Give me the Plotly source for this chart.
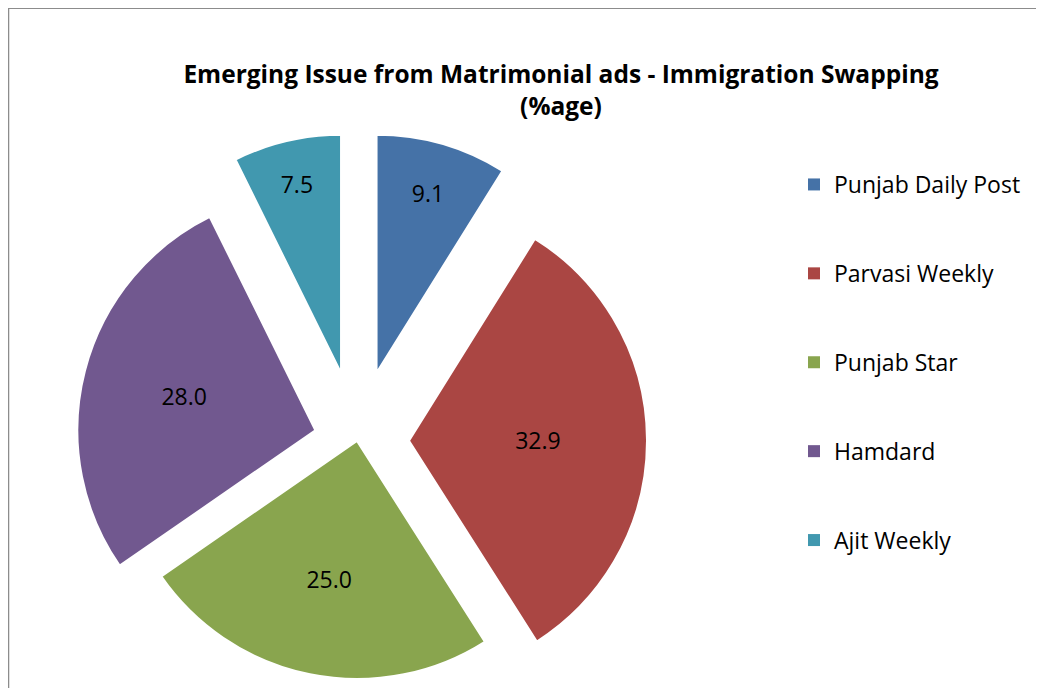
import math
import plotly.graph_objects as go

# ---- data ----
labels = ["Punjab Daily Post", "Parvasi Weekly", "Punjab Star", "Hamdard", "Ajit Weekly"]
values = [9.1, 32.9, 25.0, 28.0, 7.5]
colors = ["#4572A7", "#AA4643", "#89A54E", "#71588F", "#4198AF"]
explode_px = [71, 52, 0, 43, 70]   # how far each slice is pulled out (px)

title_text = "<b>Emerging Issue from Matrimonial ads - Immigration Swapping<br>(%age)</b>"

# ---- layout geometry ----
OFF = 8                 # page body margin
W, H = 1034, 680        # figure size
CX, CY, R = 357 - OFF, 441 - OFF, 238
FONT = "Open Sans"


def px_x(sx):
    return (sx - OFF) / W


def px_y(sy):
    return 1 - (sy - OFF) / H


fig = go.Figure()

total = sum(values)
cum = 0.0
for i, (lab, v) in enumerate(zip(labels, values)):
    mid = (cum + v / 2) / total * 2 * math.pi
    cum += v
    d = explode_px[i]
    cx = CX + d * math.sin(mid)
    cy = CY - d * math.cos(mid)
    dom_x = [(cx - R) / W, (cx + R) / W]
    dom_y = [1 - (cy + R) / H, 1 - (cy - R) / H]
    mcol = [c if j == i else "rgba(0,0,0,0)" for j, c in enumerate(colors)]
    lcol = ["white" if j == i else "rgba(0,0,0,0)" for j in range(len(values))]
    txt = [f"{val:.1f}" if j == i else "" for j, val in enumerate(values)]
    fig.add_trace(go.Pie(
        labels=labels, values=values, sort=False, direction="clockwise", rotation=0,
        domain=dict(x=dom_x, y=dom_y),
        marker=dict(colors=mcol, line=dict(color=lcol, width=2)),
        text=txt, textinfo="text", textposition="inside",
        insidetextorientation="horizontal",
        textfont=dict(family=FONT, size=23, color="black"),
        showlegend=False, hoverinfo="skip",
    ))

# legend entries
for i, (lab, c) in enumerate(zip(labels, colors)):
    fig.add_trace(go.Scatter(
        x=[None], y=[None], mode="markers", name=lab, legendgroup=lab,
        marker=dict(symbol="square", size=12, color=c),
    ))

fig.update_layout(
    width=W, height=H,
    margin=dict(l=0, r=0, t=0, b=0),
    paper_bgcolor="white", plot_bgcolor="white",
    xaxis=dict(visible=False), yaxis=dict(visible=False),
    title=dict(text=title_text, x=px_x(561), xanchor="center", y=px_y(83), yanchor="middle",
               font=dict(family=FONT, size=24.5, color="black")),
    legend=dict(x=px_x(794), xanchor="left", y=px_y(163), yanchor="top",
                font=dict(family=FONT, size=23, color="black"),
                traceorder="grouped", tracegroupgap=56, itemsizing="constant"),
    shapes=[dict(type="rect", xref="paper", yref="paper",
                 x0=0.0005, x1=0.9995, y0=-0.05, y1=0.9995,
                 line=dict(color="#8c8c8c", width=1.5), fillcolor="rgba(0,0,0,0)")],
)

fig.write_html("out.html")
